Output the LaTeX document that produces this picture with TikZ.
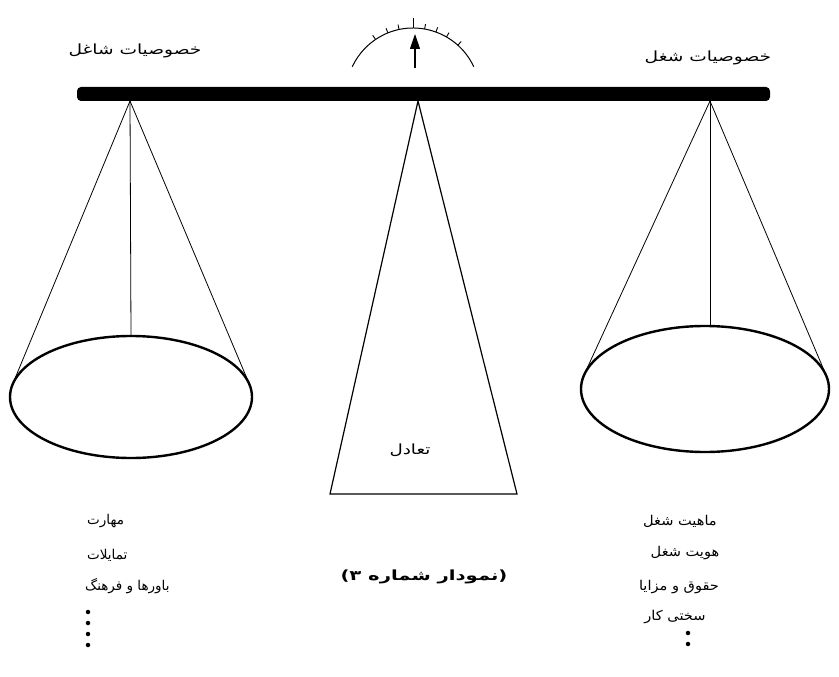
\documentclass[tikz,border=0pt]{standalone}
\usepackage{fontspec}
\newfontfamily\arabicfont[Script=Arabic]{DejaVu Sans}
\TeXXeTstate=1
\usetikzlibrary{arrows.meta}
\tikzset{
  string/.style={line width=0.8pt},
  panline/.style={line width=2.4pt},
  lbl/.style={font=\arabicfont\fontsize{13.5}{15}\selectfont, inner sep=0pt},
  biglbl/.style={font=\arabicfont\fontsize{14}{16}\selectfont, inner sep=0pt, xscale=1.33},
  dot/.style={circle, fill=black, inner sep=0pt, minimum size=4.5pt}
}
\begin{document}
\begin{tikzpicture}[x=1pt,y=-1pt]
\useasboundingbox (0,0) rectangle (839,677);
% key points
\coordinate (la) at (130,101);
\coordinate (ra) at (710,101);
\coordinate (ca) at (418,101);
\coordinate (lc) at (131,397);
\coordinate (rc) at (705,389);
\coordinate (lt1) at (12.7,384);
\coordinate (lt2) at (249.3,384);
\coordinate (lm) at (131,336);
\coordinate (rt1) at (584,375);
\coordinate (rt2) at (826,375);
\coordinate (rm) at (710,326);
\coordinate (cb1) at (330,494);
\coordinate (cb2) at (517,494);
\coordinate (gc) at (413,95);
\coordinate (ar1) at (415,68);
\coordinate (ar2) at (415,34);
% left pan
\draw[string] (la) -- (lt1);
\draw[string] (la) -- (lt2);
\draw[string] (la) -- (lm);
\draw[panline] (lc) ellipse [x radius=121pt, y radius=61pt];
% right pan
\draw[string] (ra) -- (rt1);
\draw[string] (ra) -- (rt2);
\draw[string] (ra) -- (rm);
\draw[panline] (rc) ellipse [x radius=124pt, y radius=63pt];
% central support
\draw[line width=1.2pt, line join=miter] (ca) -- (cb1) -- (cb2) -- cycle;
% beam
\fill[rounded corners=4pt] (77,87) rectangle (770,101);
% gauge
\draw[line width=1pt] (gc) ++(25:67pt) arc[start angle=25, end angle=155, radius=67pt];
\foreach \a in {48,60,70,80,102,112,124} {
  \draw[line width=0.9pt] (gc) ++(\a:67pt) -- ++(\a:5pt);
}
\draw[line width=0.9pt] (gc) ++(90:67pt) -- ++(90:10pt);
\draw[line width=1.2pt, -{Triangle[length=15pt,width=10pt]}] (ar1) -- (ar2);
% labels
\node[biglbl] (tl) at (135,51) {\beginR خصوصیات شاغل\endR};
\node[biglbl] (tr) at (708,58) {\beginR خصوصیات شغل\endR};
\node[biglbl, xscale=0.98] (eq) at (410,450) {\beginR تعادل\endR};
\node[lbl, anchor=west] (l1) at (87,521) {\beginR مهارت\endR};
\node[lbl, anchor=west] (l2) at (87,555) {\beginR تمایلات\endR};
\node[lbl, anchor=west] (l3) at (85,586) {\beginR باورها و فرهنگ\endR};
\node[dot] (ld1) at (88,612) {};
\node[dot] (ld2) at (88,623) {};
\node[dot] (ld3) at (88,634) {};
\node[dot] (ld4) at (88,645) {};
\node[lbl, xscale=1.08] (r1) at (680,521) {\beginR ماهیت شغل\endR};
\node[lbl, xscale=1.08] (r2) at (685,553) {\beginR هویت شغل\endR};
\node[lbl, xscale=1.08] (r3) at (679,587) {\beginR حقوق و مزایا\endR};
\node[lbl, xscale=1.08] (r4) at (675,617) {\beginR سختی کار\endR};
\node[dot] (rd1) at (688,633) {};
\node[dot] (rd2) at (688,644) {};
\node[inner sep=0pt, xscale=1.4, font=\arabicfont\bfseries\fontsize{14}{16}\selectfont] (cap) at (424,577) {\beginR(نمودار شماره ۳)\endR};
\end{tikzpicture}
\end{document}
